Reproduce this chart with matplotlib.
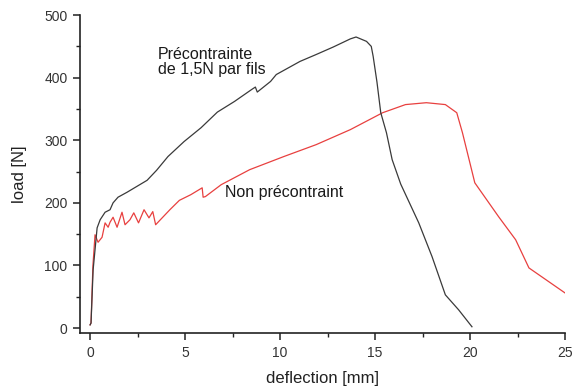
import matplotlib
matplotlib.use("Agg")
import matplotlib.pyplot as plt
from matplotlib.ticker import MultipleLocator

plt.rcParams['font.family'] = ['Liberation Sans', 'DejaVu Sans']

# prestressed specimen (1.5 N per yarn)
pre_x = [0.0, 0.05, 0.16, 0.37, 0.53, 0.79, 1.05, 1.21, 1.47, 1.95, 3.0, 3.5,
         4.1, 4.95, 5.84, 6.7, 7.6, 8.5, 8.7, 8.8, 9.5, 9.8, 11.05, 11.9, 12.8,
         13.7, 14.0, 14.55, 14.8, 14.9, 15.1, 15.3, 15.6, 15.9, 16.35, 17.3,
         18.0, 18.7, 19.4, 20.1]
pre_y = [5, 8, 93, 160, 173, 185, 189, 200, 209, 217, 236, 252,
         274, 298, 320, 345, 362, 381, 385, 377, 394, 405, 426, 437, 449,
         462, 465, 458, 450, 434, 393, 344, 312, 269, 230, 168,
         114, 53, 29, 2]

# non-prestressed specimen
non_x = [0.0, 0.05, 0.15, 0.26, 0.42, 0.63, 0.79, 0.95, 1.05, 1.21, 1.42, 1.68,
         1.84, 2.1, 2.3, 2.55, 2.84, 3.1, 3.3, 3.45, 3.7, 4.2, 4.7, 5.3, 5.9,
         5.95, 6.07, 6.9, 8.4, 10.2, 11.9, 13.7, 15.4, 16.6, 17.7, 18.7, 19.3,
         19.6, 19.95, 20.25, 21.5, 22.4, 23.1, 25.0]
non_y = [5, 8, 100, 149, 137, 145, 168, 161, 169, 177, 161, 185,
         165, 173, 184, 168, 189, 176, 186, 165, 173, 189, 204, 213, 224,
         209, 210, 229, 253, 274, 293, 317, 344, 357, 360, 357, 344,
         312, 269, 232, 178, 141, 96, 56]

fig = plt.figure(figsize=(5.74, 3.87), dpi=100)
ax = fig.add_axes([0.1394, 0.1395, 0.845, 0.8215])

ax.plot(non_x, non_y, color='#e8403f', linewidth=0.9)
ax.plot(pre_x, pre_y, color='#3a3a3a', linewidth=0.9)

ax.set_xlim(-0.53, 25)
ax.set_ylim(-8, 500)
ax.xaxis.set_major_locator(MultipleLocator(5))
ax.xaxis.set_minor_locator(MultipleLocator(2.5))
ax.yaxis.set_major_locator(MultipleLocator(100))
ax.yaxis.set_minor_locator(MultipleLocator(50))

ax.spines['top'].set_visible(False)
ax.spines['right'].set_visible(False)
for s in ('left', 'bottom'):
    ax.spines[s].set_linewidth(1.2)
    ax.spines[s].set_color('#222222')
ax.tick_params(which='major', direction='out', length=5, width=1.1,
               labelsize=10, colors='#222222', labelcolor='#333333', pad=4)
ax.tick_params(which='minor', direction='out', length=3, width=1.0,
               colors='#222222')

ax.set_xlabel('deflection [mm]', fontsize=12, color='#222222', labelpad=8)
ax.set_ylabel('load [N]', fontsize=12, color='#222222', labelpad=12)

ax.text(3.58, 425, 'Précontrainte\nde 1,5N par fils', fontsize=11.5,
        color='#1a1a1a', ha='left', va='center', linespacing=0.95)
ax.text(7.1, 217, 'Non précontraint', fontsize=11.5, color='#1a1a1a',
        ha='left', va='center')

fig.savefig('out.png', dpi=100)
